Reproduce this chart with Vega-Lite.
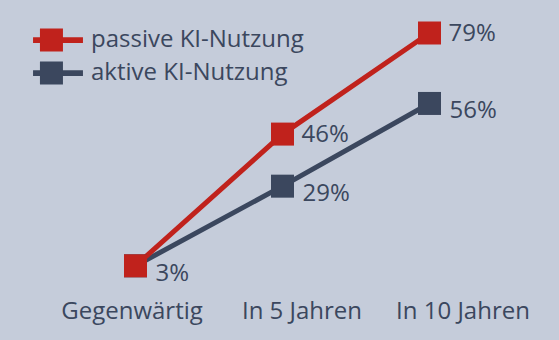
{
  "$schema": "https://vega.github.io/schema/vega-lite/v6.json",
  "autosize": "none",
  "width": 441,
  "height": 242,
  "padding": {"left": 62, "top": 33, "right": 56, "bottom": 65},
  "background": "#c5ccda",
  "config": {"view": {"stroke": null}, "font": "Open Sans"},
  "data": {"values": [
    {"zeit": "Gegenwärtig", "serie": "aktive KI-Nutzung", "wert": 3, "label": "3%"},
    {"zeit": "In 5 Jahren", "serie": "aktive KI-Nutzung", "wert": 29, "label": "29%"},
    {"zeit": "In 10 Jahren", "serie": "aktive KI-Nutzung", "wert": 56, "label": "56%"},
    {"zeit": "Gegenwärtig", "serie": "passive KI-Nutzung", "wert": 3, "label": ""},
    {"zeit": "In 5 Jahren", "serie": "passive KI-Nutzung", "wert": 46, "label": "46%"},
    {"zeit": "In 10 Jahren", "serie": "passive KI-Nutzung", "wert": 79, "label": "79%"}
  ]},
  "encoding": {
    "x": {"field": "zeit", "type": "ordinal", "sort": ["Gegenwärtig", "In 5 Jahren", "In 10 Jahren"],
      "scale": {"type": "point", "padding": 0.5},
      "axis": {"title": null, "domain": false, "ticks": false, "labelAngle": 0, "labelFontSize": 24, "labelColor": "#3b475e", "labelPadding": 24, "labelFont": "Open Sans", "labelLimit": 0,
        "labelOffset": {"condition": [{"test": "datum.value == 'Gegenwärtig'", "value": -4}, {"test": "datum.value == 'In 5 Jahren'", "value": 19}], "value": 33}}},
    "y": {"field": "wert", "type": "quantitative", "scale": {"domain": [0, 79], "nice": false, "zero": true}, "axis": null},
    "color": {"field": "serie", "type": "nominal",
      "scale": {"domain": ["passive KI-Nutzung", "aktive KI-Nutzung"], "range": ["#c0221c", "#3b475e"]},
      "legend": {"title": null, "orient": "none", "legendX": -16, "legendY": -5,
        "symbolType": "M-2.17,-0.25H2.17V0.25H-2.17Z M-1.57,-1H0.43V1H-1.57Z",
        "symbolSize": 529, "symbolStrokeWidth": 0, "symbolOpacity": 1,
        "labelFontSize": 24, "labelColor": "#3b475e", "labelFont": "Open Sans", "labelOffset": 21, "rowPadding": 9, "labelLimit": 0}}
  },
  "layer": [
    {"mark": {"type": "line", "strokeWidth": 5}},
    {"mark": {"type": "point", "filled": true, "opacity": 1, "shape": "square", "size": 529}},
    {"transform": [{"filter": "datum.serie == 'passive KI-Nutzung'"}],
     "mark": {"type": "text", "align": "left", "baseline": "middle", "dx": 19, "dy": 1, "fontSize": 24, "color": "#3b475e", "font": "Open Sans"},
     "encoding": {"text": {"field": "label"}, "color": {"value": "#3b475e"}}},
    {"transform": [{"filter": "datum.serie == 'aktive KI-Nutzung'"}],
     "mark": {"type": "text", "align": "left", "baseline": "middle", "dx": 20, "dy": 8, "fontSize": 24, "color": "#3b475e", "font": "Open Sans"},
     "encoding": {"text": {"field": "label"}, "color": {"value": "#3b475e"}}}
  ]
}
